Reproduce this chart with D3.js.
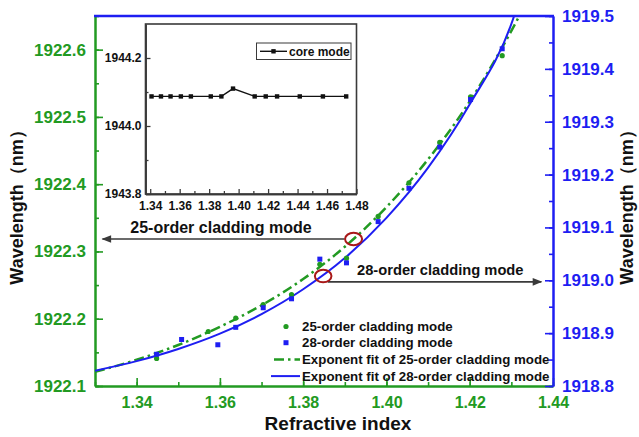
<!DOCTYPE html>
<html>
<head>
<meta charset="utf-8">
<script src="https://cdn.jsdelivr.net/npm/d3@7"></script>
<style>
  body { margin: 0; background: #fff; }
  svg text { font-family: "Liberation Sans", Arial, sans-serif; font-weight: bold; }
</style>
</head>
<body>
<div id="chart"></div>
<script>
// ---- data ----
const x25 = [1.3448, 1.3572, 1.3638, 1.3704, 1.3772, 1.3840, 1.3904, 1.3980, 1.4054, 1.4128, 1.4202, 1.4278];
const y25 = [1922.141, 1922.181, 1922.201, 1922.221, 1922.236, 1922.281, 1922.290, 1922.352, 1922.402, 1922.462, 1922.530, 1922.591];

const x28 = [1.3448, 1.3508, 1.3595, 1.3638, 1.3704, 1.3772, 1.3840, 1.3904, 1.3980, 1.4054, 1.4128, 1.4202, 1.4278];
const y28 = [1918.860, 1918.888, 1918.878, 1918.911, 1918.948, 1918.965, 1919.040, 1919.033, 1919.111, 1919.174, 1919.252, 1919.342, 1919.438];

// fitted curves, sampled along the drawn lines
const fitX  = [1.33, 1.34, 1.35, 1.36, 1.37, 1.38, 1.39, 1.40, 1.41, 1.42, 1.43, 1.433];
const fit25 = [1922.121, 1922.139, 1922.161, 1922.188, 1922.220, 1922.259, 1922.307, 1922.366, 1922.437, 1922.523, 1922.628, 1922.663];
const fit28 = [1918.829, 1918.847, 1918.870, 1918.899, 1918.936, 1918.983, 1919.042, 1919.118, 1919.213, 1919.333, 1919.485, 1919.557];

// inset: core mode
const coreX = [1.3409, 1.3473, 1.3538, 1.3608, 1.3676, 1.3811, 1.3883, 1.3962, 1.4109, 1.4184, 1.4261, 1.4415, 1.4572, 1.4730];
const coreY = [1944.087, 1944.087, 1944.087, 1944.087, 1944.087, 1944.087, 1944.087, 1944.110, 1944.087, 1944.087, 1944.087, 1944.087, 1944.087, 1944.087];

const xTicks     = [1.34, 1.36, 1.38, 1.40, 1.42, 1.44];
const leftTicks  = [1922.1, 1922.2, 1922.3, 1922.4, 1922.5, 1922.6];
const rightTicks = [1918.8, 1918.9, 1919.0, 1919.1, 1919.2, 1919.3, 1919.4, 1919.5];
const insetXTicks = [1.34, 1.36, 1.38, 1.40, 1.42, 1.44, 1.46, 1.48];
const insetYTicks = [1943.8, 1944.0, 1944.2];

const legendLabels = ["25-order cladding mode", "28-order cladding mode",
  "Exponent fit of 25-order cladding mode", "Exponent fit of 28-order cladding mode"];

// annotations (data units)
const mark25 = { x: 1.3921, y: 1922.3185, arrowTo: 1.3318, text: "25-order cladding mode" };
const mark28 = { x: 1.3848, y: 1919.008, arrowFrom: 1.3859, arrowTo: 1.4372, arrowY: 1918.997, text: "28-order cladding mode" };

// ---- setup ----
const W = 639, H = 437;
const GREEN = "#229a22", BLUE = "#1e1ef2", DARKRED = "#a81818", GREY = "#3a3a3a";
const plot = { left: 95, right: 553, top: 16, bottom: 386 };

const svg = d3.select("#chart").append("svg")
  .attr("width", W).attr("height", H)
  .style("background", "#fff");

const x = d3.scaleLinear().domain([1.33, 1.44]).range([plot.left, plot.right]);
const yL = d3.scaleLinear().domain([1922.1, 1922.65]).range([plot.bottom, plot.top]);
const yR = d3.scaleLinear().domain([1918.8, 1919.5]).range([plot.bottom, plot.top]);

svg.append("defs").append("clipPath").attr("id", "plotclip")
  .append("rect")
  .attr("x", plot.left).attr("y", plot.top)
  .attr("width", plot.right - plot.left).attr("height", plot.bottom - plot.top);

svg.select("defs").append("marker")
  .attr("id", "arrow").attr("viewBox", "0 0 10 10")
  .attr("refX", 9).attr("refY", 5)
  .attr("markerWidth", 7).attr("markerHeight", 6)
  .attr("orient", "auto-start-reverse")
  .append("path").attr("d", "M0,1 L10,5 L0,9 Z").attr("fill", GREY);

// styles an axis group: colour for line, ticks and labels
function styleAxis(g, color, fontSize, width) {
  g.select(".domain").attr("stroke", color).attr("stroke-width", width);
  g.selectAll(".tick line").attr("stroke", color).attr("stroke-width", width * 0.8);
  g.selectAll(".tick text").attr("fill", color).style("font-size", fontSize + "px");
}
const minors = (a, b, step) => d3.range(a, b + step / 2, step);

// ---- axes ----
// bottom
svg.append("g").attr("transform", `translate(0,${plot.bottom})`)
  .call(d3.axisBottom(x).tickValues(minors(1.33, 1.44, 0.01)).tickSize(-4).tickSizeOuter(0).tickFormat(""))
  .call(g => styleAxis(g, GREEN, 16, 2));
svg.append("g").attr("transform", `translate(0,${plot.bottom})`)
  .call(d3.axisBottom(x).tickValues(xTicks).tickSize(-8).tickSizeOuter(0).tickPadding(11).tickFormat(d3.format(".2f")))
  .call(g => styleAxis(g, GREEN, 16, 2));

// left
svg.append("g").attr("transform", `translate(${plot.left},0)`)
  .call(d3.axisLeft(yL).tickValues(minors(1922.1, 1922.65, 0.05)).tickSize(-4).tickSizeOuter(0).tickFormat(""))
  .call(g => styleAxis(g, GREEN, 17, 2));
svg.append("g").attr("transform", `translate(${plot.left},0)`)
  .call(d3.axisLeft(yL).tickValues(leftTicks).tickSize(-8).tickSizeOuter(0).tickPadding(9).tickFormat(d3.format(".1f")))
  .call(g => styleAxis(g, GREEN, 17, 2));

// right
svg.append("g").attr("transform", `translate(${plot.right},0)`)
  .call(d3.axisRight(yR).tickValues(minors(1918.8, 1919.5, 0.05)).tickSize(-4).tickSizeOuter(0).tickFormat(""))
  .call(g => styleAxis(g, BLUE, 17, 2));
svg.append("g").attr("transform", `translate(${plot.right},0)`)
  .call(d3.axisRight(yR).tickValues(rightTicks).tickSize(-8).tickSizeOuter(0).tickPadding(9).tickFormat(d3.format(".1f")))
  .call(g => styleAxis(g, BLUE, 17, 2));

// top frame line
svg.append("line")
  .attr("x1", plot.left - 1).attr("x2", plot.right + 1)
  .attr("y1", plot.top).attr("y2", plot.top)
  .attr("stroke", BLUE).attr("stroke-width", 2.5);

// axis titles
svg.append("text")
  .attr("transform", `translate(23,${(plot.top + plot.bottom) / 2 + 2}) rotate(-90)`)
  .attr("text-anchor", "middle").style("font-size", "18px").attr("fill", "#111")
  .text("Wavelength（nm）");
svg.append("text")
  .attr("transform", `translate(633,${(plot.top + plot.bottom) / 2 + 2}) rotate(-90)`)
  .attr("text-anchor", "middle").style("font-size", "18px").attr("fill", "#111")
  .text("Wavelength（nm）");
svg.append("text")
  .attr("x", (plot.left + plot.right) / 2 + 14).attr("y", 430)
  .attr("text-anchor", "middle").style("font-size", "19px").attr("fill", "#111")
  .text("Refractive index");

// ---- fits and points ----
const body = svg.append("g").attr("clip-path", "url(#plotclip)");

const fitData = fitX.map((v, i) => ({ x: v, a: fit25[i], b: fit28[i] }));

body.append("path")
  .datum(fitData)
  .attr("fill", "none").attr("stroke", GREEN).attr("stroke-width", 2.5)
  .attr("stroke-dasharray", "10,4,2.5,4")
  .attr("d", d3.line().x(d => x(d.x)).y(d => yL(d.a)).curve(d3.curveMonotoneX));

body.append("path")
  .datum(fitData)
  .attr("fill", "none").attr("stroke", BLUE).attr("stroke-width", 2)
  .attr("d", d3.line().x(d => x(d.x)).y(d => yR(d.b)).curve(d3.curveMonotoneX));

body.append("g")
  .selectAll("circle")
  .data(x25.map((v, i) => [v, y25[i]]))
  .join("circle")
    .attr("cx", d => x(d[0]))
    .attr("cy", d => yL(d[1]))
    .attr("r", 2.6)
    .attr("fill", GREEN);

body.append("g")
  .selectAll("rect")
  .data(x28.map((v, i) => [v, y28[i]]))
  .join("rect")
    .attr("x", d => x(d[0]) - 2.5)
    .attr("y", d => yR(d[1]) - 2.5)
    .attr("width", 5).attr("height", 5)
    .attr("fill", BLUE);

// ---- annotations ----
svg.append("line")
  .attr("x1", x(mark25.x) - 9).attr("y1", yL(mark25.y))
  .attr("x2", x(mark25.arrowTo)).attr("y2", yL(mark25.y))
  .attr("stroke", GREY).attr("stroke-width", 1.6)
  .attr("marker-end", "url(#arrow)");
svg.append("text")
  .attr("x", 221).attr("y", yL(mark25.y) - 6)
  .attr("text-anchor", "middle").style("font-size", "16px").attr("fill", "#111")
  .text(mark25.text);
svg.append("ellipse")
  .attr("cx", x(mark25.x)).attr("cy", yL(mark25.y))
  .attr("rx", 8.5).attr("ry", 6.2)
  .attr("fill", "none").attr("stroke", DARKRED).attr("stroke-width", 2);

svg.append("line")
  .attr("x1", x(mark28.arrowFrom)).attr("y1", yR(mark28.arrowY))
  .attr("x2", x(mark28.arrowTo)).attr("y2", yR(mark28.arrowY))
  .attr("stroke", GREY).attr("stroke-width", 1.6)
  .attr("marker-end", "url(#arrow)");
svg.append("text")
  .attr("x", 357).attr("y", yR(mark28.arrowY) - 7)
  .style("font-size", "14.7px").attr("fill", "#111")
  .text(mark28.text);
svg.append("ellipse")
  .attr("cx", x(mark28.x)).attr("cy", yR(mark28.y))
  .attr("rx", 8.3).attr("ry", 6.2)
  .attr("fill", "none").attr("stroke", DARKRED).attr("stroke-width", 2);

// ---- legend ----
const legend = svg.append("g").attr("transform", "translate(0,326)");
const rowH = 16.7;
legend.selectAll("text")
  .data(legendLabels)
  .join("text")
    .attr("x", 302).attr("y", (d, i) => i * rowH)
    .attr("dy", "0.35em")
    .style("font-size", "13.3px").attr("fill", "#111")
    .text(d => d);
legend.append("circle").attr("cx", 286).attr("cy", 0.5).attr("r", 2.6).attr("fill", GREEN);
legend.append("rect").attr("x", 283.5).attr("y", rowH - 2.5).attr("width", 5).attr("height", 5).attr("fill", BLUE);
legend.append("line")
  .attr("x1", 274).attr("x2", 300).attr("y1", 2 * rowH).attr("y2", 2 * rowH)
  .attr("stroke", GREEN).attr("stroke-width", 2.5).attr("stroke-dasharray", "10,4,2.5,4");
legend.append("line")
  .attr("x1", 271).attr("x2", 300).attr("y1", 3 * rowH).attr("y2", 3 * rowH)
  .attr("stroke", BLUE).attr("stroke-width", 2);

// ---- inset ----
const ins = { left: 145.5, right: 356.5, top: 24, bottom: 194 };
const xi = d3.scaleLinear().domain([1.3368, 1.48]).range([ins.left, ins.right]);
const yi = d3.scaleLinear().domain([1943.8, 1944.3]).range([ins.bottom, ins.top]);

const inset = svg.append("g");
inset.append("rect")
  .attr("x", ins.left).attr("y", ins.top)
  .attr("width", ins.right - ins.left).attr("height", ins.bottom - ins.top)
  .attr("fill", "#fff");

inset.append("g").attr("transform", `translate(0,${ins.bottom})`)
  .call(d3.axisBottom(xi).tickValues(minors(1.35, 1.47, 0.02)).tickSize(-3).tickSizeOuter(0).tickFormat(""))
  .call(g => styleAxis(g, GREY, 12, 1.6));
inset.append("g").attr("transform", `translate(0,${ins.bottom})`)
  .call(d3.axisBottom(xi).tickValues(insetXTicks).tickSize(-5).tickSizeOuter(0).tickPadding(7).tickFormat(d3.format(".2f")))
  .call(g => styleAxis(g, GREY, 12, 1.6))
  .call(g => g.selectAll(".tick text").attr("fill", "#111"));
inset.append("g").attr("transform", `translate(${ins.left},0)`)
  .call(d3.axisLeft(yi).tickValues([1943.9, 1944.1]).tickSize(-3).tickSizeOuter(0).tickFormat(""))
  .call(g => styleAxis(g, GREY, 12, 1.6));
inset.append("g").attr("transform", `translate(${ins.left},0)`)
  .call(d3.axisLeft(yi).tickValues(insetYTicks).tickSize(-5).tickSizeOuter(0).tickPadding(4).tickFormat(d3.format(".1f")))
  .call(g => styleAxis(g, GREY, 12, 1.6))
  .call(g => g.selectAll(".tick text").attr("fill", "#111"));

inset.append("rect")
  .attr("x", ins.left).attr("y", ins.top)
  .attr("width", ins.right - ins.left).attr("height", ins.bottom - ins.top)
  .attr("fill", "none").attr("stroke", GREY).attr("stroke-width", 1.6);

const coreData = coreX.map((v, i) => [v, coreY[i]]);
inset.append("path")
  .datum(coreData)
  .attr("fill", "none").attr("stroke", "#111").attr("stroke-width", 1.4)
  .attr("d", d3.line().x(d => xi(d[0])).y(d => yi(d[1])));
inset.append("g")
  .selectAll("rect")
  .data(coreData)
  .join("rect")
    .attr("x", d => xi(d[0]) - 2.2)
    .attr("y", d => yi(d[1]) - 2.2)
    .attr("width", 4.4).attr("height", 4.4)
    .attr("fill", "#111");

// inset legend
const il = inset.append("g");
il.append("rect")
  .attr("x", 256.5).attr("y", 43).attr("width", 94.5).attr("height", 16.5)
  .attr("fill", "#fff").attr("stroke", GREY).attr("stroke-width", 1);
il.append("line").attr("x1", 260).attr("x2", 287).attr("y1", 51.3).attr("y2", 51.3)
  .attr("stroke", "#111").attr("stroke-width", 1.4);
il.append("rect").attr("x", 271.3).attr("y", 49.1).attr("width", 4.4).attr("height", 4.4).attr("fill", "#111");
il.append("text").attr("x", 289).attr("y", 51.3).attr("dy", "0.35em")
  .style("font-size", "12px").attr("fill", "#111")
  .text("core mode");
</script>
</body>
</html>
